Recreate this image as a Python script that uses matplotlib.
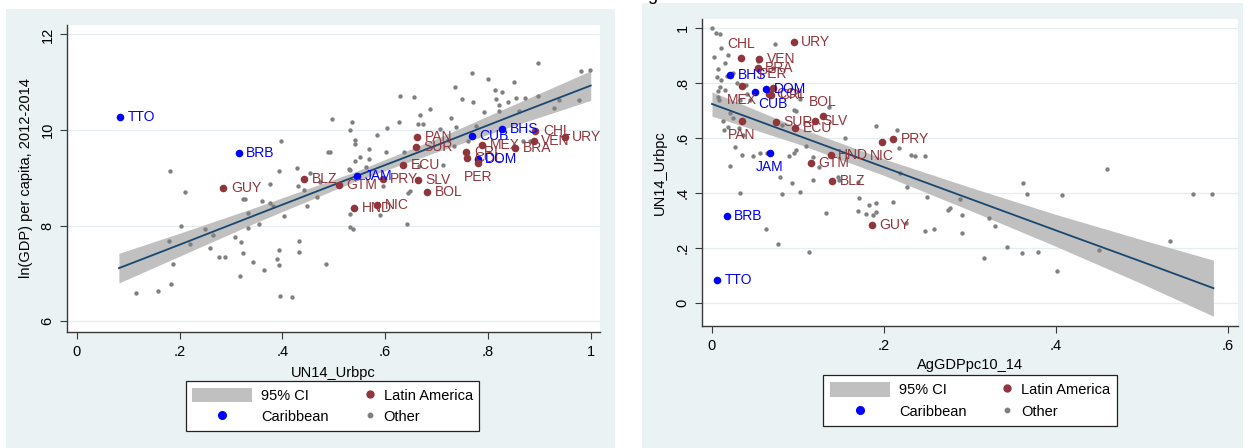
import numpy as np
import matplotlib
matplotlib.use("Agg")
import matplotlib.pyplot as plt
from matplotlib.lines import Line2D
from matplotlib.patches import Patch, Rectangle
from matplotlib.legend_handler import HandlerLine2D

plt.rcParams['font.family'] = ['Liberation Sans', 'DejaVu Sans']

# labelled countries (shared by both panels)
countries = ["TTO", "BRB", "GUY", "BLZ", "GTM", "JAM", "HND", "NIC", "PRY", "SLV", "BOL", "ECU", "SUR",
             "PAN", "CUB", "BHS", "CHL", "URY", "VEN", "BRA", "MEX", "CRI", "COL", "DOM", "PER"]
region = ["Caribbean", "Caribbean", "Latin America", "Latin America", "Latin America", "Caribbean",
          "Latin America", "Latin America", "Latin America", "Latin America", "Latin America",
          "Latin America", "Latin America", "Latin America", "Caribbean", "Caribbean", "Latin America",
          "Latin America", "Latin America", "Latin America", "Latin America", "Latin America",
          "Latin America", "Caribbean", "Latin America"]
urban = [0.085, 0.315, 0.285, 0.442, 0.510, 0.545, 0.540, 0.584, 0.595, 0.663, 0.681, 0.635, 0.660,
         0.662, 0.768, 0.828, 0.892, 0.949, 0.889, 0.853, 0.789, 0.758, 0.759, 0.780, 0.781]
ln_gdp = [10.27, 9.52, 8.79, 8.97, 8.85, 9.04, 8.37, 8.43, 8.97, 8.95, 8.70, 9.27, 9.64,
          9.85, 9.87, 10.02, 9.98, 9.85, 9.77, 9.62, 9.69, 9.54, 9.41, 9.39, 9.31]
ag_share = [0.006, 0.017, 0.186, 0.140, 0.115, 0.067, 0.138, 0.198, 0.211, 0.120, 0.129, 0.097, 0.074,
            0.035, 0.050, 0.021, 0.034, 0.095, 0.055, 0.053, 0.035, 0.069, 0.066, 0.063, 0.071]

# label clock positions (Stata mlabvposition)
pos_left = {"PER": 6}
pos_right = {"CHL": 12, "PER": 12, "MEX": 6, "CUB": 5, "BOL": 12, "PAN": 6, "JAM": 6, "NIC": 6}

# other countries, left panel
other_urban_l = [0.181, 0.211, 0.203, 0.180, 0.188, 0.183, 0.116, 0.158, 0.221, 0.249, 0.265, 0.260, 0.276,
                 0.288, 0.307, 0.319, 0.323, 0.317, 0.323, 0.328, 0.334, 0.333, 0.354, 0.343, 0.364, 0.360,
                 0.375, 0.376, 0.382, 0.394, 0.403, 0.393, 0.389, 0.393, 0.395, 0.418, 0.428, 0.430, 0.443,
                 0.448, 0.454, 0.467, 0.432, 0.432, 0.484, 0.529, 0.532, 0.532, 0.537, 0.563, 0.397,
                 0.897, 0.768, 0.801, 0.851, 0.736, 0.813, 0.828, 0.982, 0.998, 0.628, 0.657, 0.750, 0.770,
                 0.816, 0.839, 0.855, 0.873, 0.897, 0.822, 0.822, 0.860, 0.792, 0.938, 0.929, 0.977, 0.687,
                 0.668, 0.728, 0.496, 0.535, 0.627, 0.663, 0.674, 0.604, 0.706, 0.738, 0.776,
                 0.532, 0.585, 0.541, 0.541, 0.569, 0.552, 0.541, 0.569, 0.602, 0.637, 0.665, 0.712, 0.723,
                 0.734, 0.761, 0.868, 0.882, 0.493, 0.489, 0.532, 0.473, 0.595, 0.648, 0.645, 0.590, 0.643]
other_gdp_l = [9.15, 8.70, 7.99, 7.68, 7.19, 6.77, 6.58, 6.64, 7.61, 7.92, 7.80, 7.54, 7.34,
               7.35, 7.77, 7.66, 7.42, 6.95, 8.55, 8.55, 8.26, 7.95, 8.03, 7.23, 7.07, 8.52,
               8.48, 8.88, 8.41, 9.14, 8.20, 7.48, 7.30, 7.18, 6.53, 6.51, 9.21, 8.83, 8.74,
               8.40, 9.11, 8.60, 7.68, 7.45, 7.19, 9.18, 8.24, 7.98, 7.92, 9.22, 9.76,
               11.40, 11.19, 11.06, 11.01, 10.91, 10.84, 10.79, 11.23, 11.25, 10.72, 10.69, 10.65, 10.59,
               10.64, 10.58, 10.68, 10.66, 10.72, 10.52, 10.40, 10.40, 10.38, 10.62, 10.47, 10.62, 10.43,
               10.32, 10.25, 10.23, 10.17, 10.17, 10.12, 10.13, 10.05, 10.03, 10.06, 10.08,
               10.01, 9.90, 9.79, 9.70, 9.60, 9.44, 9.36, 9.39, 9.53, 9.55, 9.25, 9.27, 9.79,
               9.67, 9.76, 9.77, 9.76, 9.55, 9.53, 9.16, 8.92, 8.83, 8.73, 8.68, 8.22, 8.03]

# other countries, right panel
other_ag_r = [0.000, 0.005, 0.009, 0.002, 0.011, 0.019, 0.007, 0.015, 0.006, 0.011, 0.018, 0.025, 0.007,
              0.009, 0.007, 0.008, 0.015, 0.029, 0.040, 0.041, 0.033, 0.044, 0.054, 0.073, 0.071, 0.102,
              0.095, 0.098, 0.081, 0.021, 0.024, 0.013, 0.019, 0.032, 0.036, 0.014, 0.027, 0.035, 0.021,
              0.048, 0.056, 0.064, 0.079, 0.089, 0.095, 0.098, 0.093, 0.102, 0.033, 0.081, 0.109, 0.118,
              0.124, 0.118, 0.136, 0.146, 0.148, 0.155, 0.170, 0.191, 0.215, 0.218, 0.219,
              0.171, 0.183, 0.191, 0.210, 0.227, 0.250, 0.133, 0.170, 0.179, 0.187, 0.191, 0.226, 0.248,
              0.258, 0.063, 0.077, 0.113,
              0.274, 0.277, 0.288, 0.291, 0.291, 0.322, 0.329, 0.316, 0.343, 0.362, 0.366, 0.361, 0.379,
              0.401, 0.407, 0.450, 0.533, 0.559, 0.581, 0.231, 0.236, 0.248, 0.459]
other_urban_r = [0.999, 0.983, 0.977, 0.896, 0.928, 0.902, 0.850, 0.872, 0.821, 0.811, 0.825, 0.838, 0.772,
                 0.784, 0.748, 0.738, 0.775, 0.799, 0.793, 0.760, 0.738, 0.738, 0.880, 0.941, 0.853, 0.741,
                 0.702, 0.699, 0.647, 0.690, 0.672, 0.663, 0.641, 0.635, 0.611, 0.629, 0.568, 0.538, 0.498,
                 0.535, 0.544, 0.544, 0.457, 0.535, 0.544, 0.556, 0.435, 0.405, 0.401, 0.396, 0.572, 0.532,
                 0.493, 0.447, 0.714, 0.459, 0.447, 0.599, 0.441, 0.645, 0.629, 0.562, 0.472,
                 0.381, 0.356, 0.362, 0.368, 0.421, 0.384, 0.326, 0.336, 0.324, 0.321, 0.331, 0.290, 0.263,
                 0.268, 0.268, 0.213, 0.184,
                 0.338, 0.344, 0.377, 0.321, 0.253, 0.310, 0.280, 0.162, 0.205, 0.435, 0.395, 0.183, 0.184,
                 0.118, 0.393, 0.193, 0.225, 0.396, 0.396, 0.538, 0.536, 0.536, 0.486]

# fitted lines with 95% CI
fit_x_l = [0.082, 0.2, 0.35, 0.54, 0.7, 0.85, 1.0]
fit_y_l = [7.11, 7.60, 8.23, 9.02, 9.68, 10.31, 10.93]
ci_lo_l = [6.80, 7.36, 8.07, 8.92, 9.54, 10.09, 10.62]
ci_hi_l = [7.42, 7.84, 8.39, 9.12, 9.82, 10.53, 11.24]

fit_x_r = [0.0, 0.1, 0.2, 0.3, 0.4, 0.5, 0.583]
fit_y_r = [0.724, 0.609, 0.494, 0.379, 0.264, 0.150, 0.054]
ci_lo_r = [0.680, 0.579, 0.464, 0.337, 0.206, 0.070, -0.048]
ci_hi_r = [0.768, 0.639, 0.524, 0.421, 0.322, 0.230, 0.156]

ticks01 = [0, 0.2, 0.4, 0.6, 0.8, 1.0]
ticklab01 = ["0", ".2", ".4", ".6", ".8", "1"]

colors = {"Latin America": "#90353B", "Caribbean": "#0000FF"}
other_col = "#808080"
ci_col = "#C0C0C0"
line_col = "#1A476F"
bg = "#EAF2F3"
axcol = "#3a3a3a"


class HandlerMarkerRight(HandlerLine2D):
    def get_xdata(self, legend, xdescent, ydescent, width, height, fontsize):
        x = -xdescent + width - 0.3 * fontsize
        return np.array([x, x]), np.array([x])


def offset_for(pos):
    if pos == 6:
        return (0, -5), "center", "top"
    if pos == 12:
        return (0, 5), "center", "bottom"
    if pos == 5:
        return (2, -4), "left", "top"
    return (5.5, 0), "left", "center"


def panel(ax, xs, ys, oxs, oys, fx, fy, lo, hi, pos, legend_xy):
    ax.fill_between(fx, lo, hi, color=ci_col, lw=0, zorder=1)
    ax.plot(fx, fy, color=line_col, lw=1.3, zorder=3)
    ax.scatter(oxs, oys, s=10, color=other_col, lw=0, zorder=2)
    for c, r, x, y in zip(countries, region, xs, ys):
        ax.scatter([x], [y], s=30, color=colors[r], lw=0, zorder=4)
        off, ha, va = offset_for(pos.get(c, 3))
        ax.annotate(c, (x, y), xytext=off, textcoords="offset points", ha=ha, va=va,
                    color=colors[r], fontsize=10, zorder=5)
    for s in ["top", "right"]:
        ax.spines[s].set_visible(False)
    for s in ["left", "bottom"]:
        ax.spines[s].set_color(axcol)
        ax.spines[s].set_linewidth(1.0)
    ax.tick_params(direction="out", length=5, width=0.8, color=axcol, labelsize=10.5, pad=4)
    for t in ax.get_yticklabels():
        t.set_rotation(90)
        t.set_va("center")
    ax.grid(axis="y", color="#E4EDEF", lw=0.9, zorder=0)
    ax.set_axisbelow(True)

    handles = [Patch(facecolor=ci_col, edgecolor="none"),
               Line2D([], [], marker="o", ls="none", color=colors["Caribbean"], markersize=5.5),
               Line2D([], [], marker="o", ls="none", color=colors["Latin America"], markersize=5),
               Line2D([], [], marker="o", ls="none", color=other_col, markersize=3.2)]
    labels = ["95% CI", "Caribbean", "Latin America", "Other"]
    ax.legend(handles, labels, loc="center", bbox_to_anchor=legend_xy, bbox_transform=fig.transFigure,
              ncol=2, fontsize=10.5, handlelength=4.1, handleheight=1.15, handletextpad=0.65,
              columnspacing=-1.0, labelspacing=0.45, borderpad=0.45, fancybox=False,
              edgecolor="#222222", framealpha=1,
              handler_map={handles[2]: HandlerMarkerRight(), handles[3]: HandlerMarkerRight()})
    ax.get_legend().get_frame().set_linewidth(0.9)


W, H = 1246, 448
fig = plt.figure(figsize=(W / 100, H / 100), dpi=100)
fig.patches.append(Rectangle((6 / W, 0), 609 / W, 439 / H, transform=fig.transFigure,
                             facecolor=bg, edgecolor="none", zorder=-1))
fig.patches.append(Rectangle((642 / W, 0), 601 / W, 445 / H, transform=fig.transFigure,
                             facecolor=bg, edgecolor="none", zorder=-1))
fig.text(652 / W, 1.0, "g", fontsize=13, va="baseline", ha="center")

ax1 = fig.add_axes([67 / W, 1 - 332 / H, 533 / W, 307 / H])
ax1.set_xlim(-0.019, 1.018)
ax1.set_ylim(5.774, 12.197)
ax1.set_xticks(ticks01)
ax1.set_xticklabels(ticklab01)
ax1.set_yticks([6, 8, 10, 12])
ax1.set_yticklabels(["6", "8", "10", "12"])
panel(ax1, urban, ln_gdp, other_urban_l, other_gdp_l, fit_x_l, fit_y_l, ci_lo_l, ci_hi_l,
      pos_left, (332.5 / W, 1 - 406 / H))
ax1.set_xlabel("UN14_Urbpc", fontsize=10.5)
ax1.set_ylabel("ln(GDP) per capita, 2012-2014", fontsize=10.5)
ax1.xaxis.set_label_coords(0.5, -0.11)
ax1.yaxis.set_label_coords(-0.064, 0.5)

ax2 = fig.add_axes([702 / W, 1 - 326 / H, 536 / W, 307 / H])
ax2.set_xlim(-0.0116, 0.6116)
ax2.set_ylim(-0.0836, 1.033)
ax2.set_xticks([0, 0.2, 0.4, 0.6])
ax2.set_xticklabels(["0", ".2", ".4", ".6"])
ax2.set_yticks(ticks01)
ax2.set_yticklabels(ticklab01)
panel(ax2, ag_share, urban, other_ag_r, other_urban_r, fit_x_r, fit_y_r, ci_lo_r, ci_hi_r,
      pos_right, (970 / W, 1 - 400.5 / H))
ax2.set_xlabel("AgGDPpc10_14", fontsize=10.5)
ax2.set_ylabel("UN14_Urbpc", fontsize=10.5)
ax2.xaxis.set_label_coords(0.5, -0.105)
ax2.yaxis.set_label_coords(-0.065, 0.5)

fig.savefig("out.png", dpi=100, facecolor="white")
